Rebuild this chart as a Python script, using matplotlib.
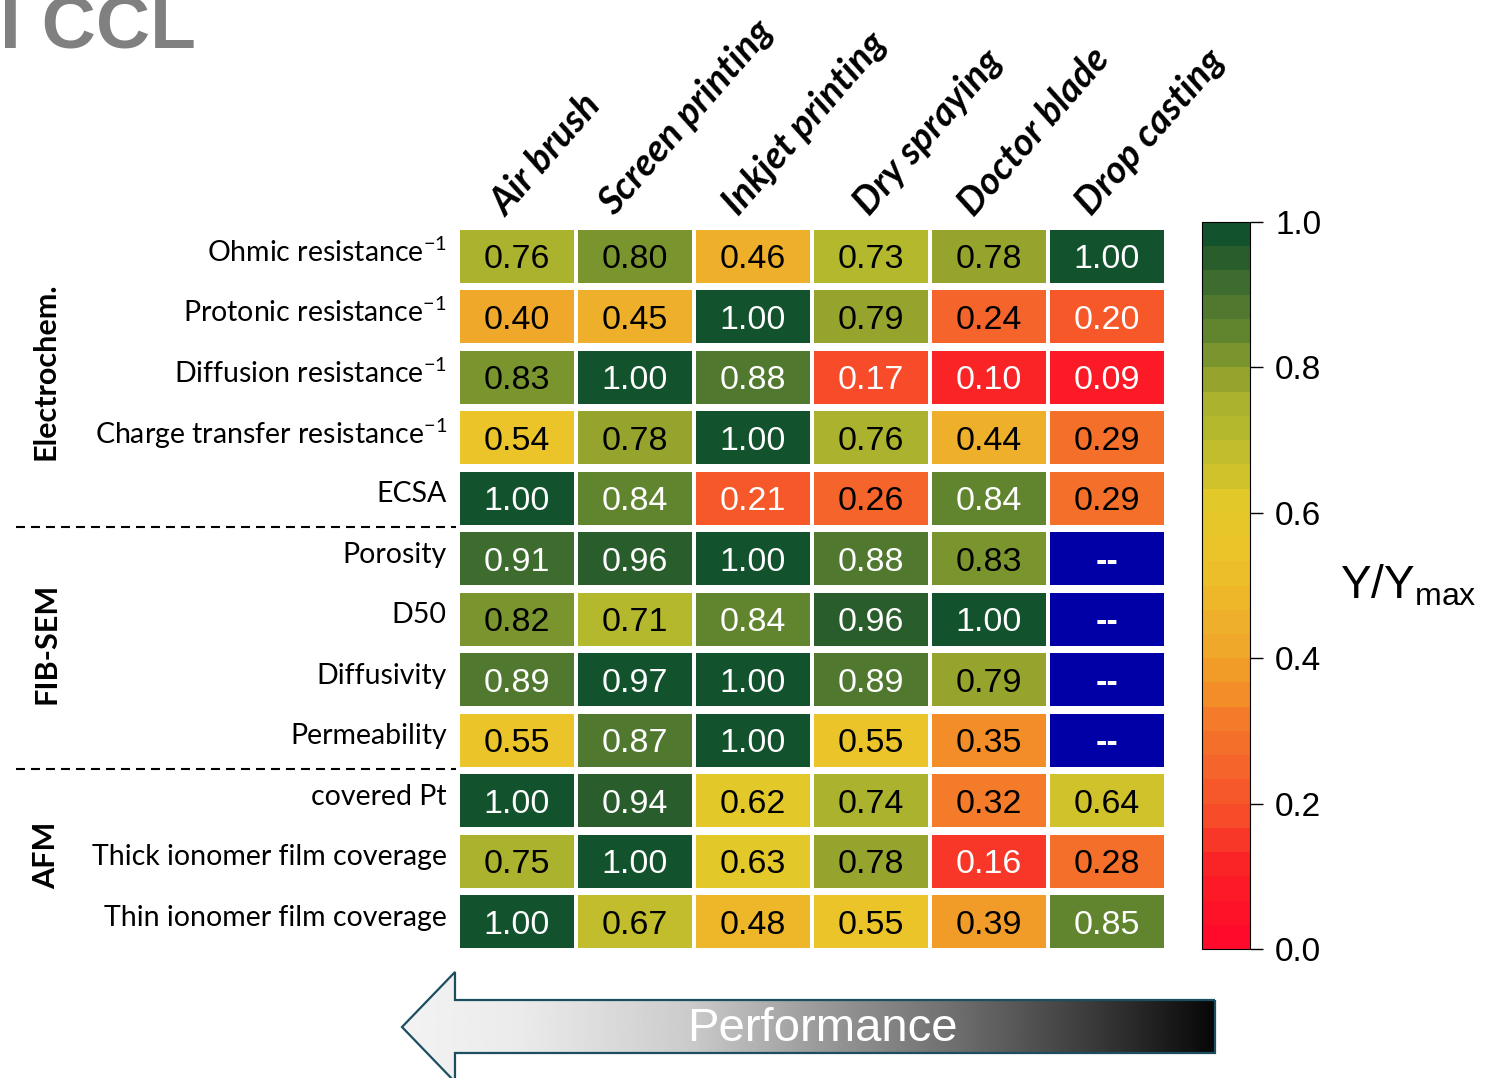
import numpy as np
import matplotlib
matplotlib.use("Agg")
import matplotlib.pyplot as plt
from matplotlib.colors import LinearSegmentedColormap, Normalize
from matplotlib.patches import Rectangle, Polygon
from matplotlib.transforms import blended_transform_factory
import matplotlib.cm as cm

# ---------------------------------------------------------------- data
methods = ["Air brush", "Screen printing", "Inkjet printing",
           "Dry spraying", "Doctor blade", "Drop casting"]

row_labels = [
    "Ohmic resistance$^{\\mathregular{-1}}$",
    "Protonic resistance$^{\\mathregular{-1}}$",
    "Diffusion resistance$^{\\mathregular{-1}}$",
    "Charge transfer resistance$^{\\mathregular{-1}}$",
    "ECSA",
    "Porosity", "D50", "Diffusivity", "Permeability",
    "covered Pt", "Thick ionomer film coverage", "Thin ionomer film coverage",
]

# normalised values Y/Ymax, one list per property (columns follow `methods`)
electrochem = [
    [0.76, 0.80, 0.46, 0.73, 0.78, 1.00],
    [0.40, 0.45, 1.00, 0.79, 0.24, 0.20],
    [0.83, 1.00, 0.88, 0.17, 0.10, 0.09],
    [0.54, 0.78, 1.00, 0.76, 0.44, 0.29],
    [1.00, 0.84, 0.21, 0.26, 0.84, 0.29],
]
fib_sem = [
    [0.91, 0.96, 1.00, 0.88, 0.83, np.nan],
    [0.82, 0.71, 0.84, 0.96, 1.00, np.nan],
    [0.89, 0.97, 1.00, 0.89, 0.79, np.nan],
    [0.55, 0.87, 1.00, 0.55, 0.35, np.nan],
]
afm = [
    [1.00, 0.94, 0.62, 0.74, 0.32, 0.64],
    [0.75, 1.00, 0.63, 0.78, 0.16, 0.28],
    [1.00, 0.67, 0.48, 0.55, 0.39, 0.85],
]
groups = [("Electrochem.", electrochem), ("FIB-SEM", fib_sem), ("AFM", afm)]

cbar_ticks = [0.0, 0.2, 0.4, 0.6, 0.8, 1.0]

values = np.array(electrochem + fib_sem + afm, dtype=float)

# ---------------------------------------------------------------- style
W, H = 1488, 1078
NUM_FONT = "Liberation Sans"
LBL_FONT = "Lato"

stops = [
    (0.00, "#FF0A2A"), (0.10, "#FA2125"), (0.17, "#F74A2A"), (0.24, "#F5642A"),
    (0.30, "#F4762A"), (0.35, "#F39028"), (0.40, "#EFA52A"), (0.47, "#EEB52A"),
    (0.55, "#EBC42A"), (0.62, "#E3C82A"), (0.67, "#C8C02C"), (0.72, "#B5B92C"),
    (0.76, "#ABB22E"), (0.79, "#98A52E"), (0.82, "#80982E"), (0.85, "#678A2E"),
    (0.89, "#537A2E"), (0.93, "#3F6B2E"), (0.96, "#2D5F2C"), (1.00, "#12522C"),
]
cmap = LinearSegmentedColormap.from_list("ryg", stops, N=30)
norm = Normalize(0, 1)
missing_color = "#0000A6"

# horizontal nudge of each rotated method label (in column units)
label_nudge = [0.08, 0.0, 0.05, 0.16, 0.04, 0.04]

plt.rcParams["mathtext.default"] = "regular"


def fx(px):
    return px / W


def fy(py):
    return 1 - py / H


fig = plt.figure(figsize=(W / 100, H / 100), dpi=100)

# ---------------------------------------------------------------- heatmap
ax = fig.add_axes([fx(458), fy(952), fx(1166) - fx(458), fy(226) - fy(952)])
ax.set_xlim(-0.5, len(methods) - 0.5)
ax.set_ylim(len(row_labels) - 0.5, -0.5)
ax.axis("off")

for i, row in enumerate(values):
    for j, v in enumerate(row):
        if np.isnan(v):
            face, txt, tc, wt = missing_color, "--", "white", "bold"
        else:
            face = cmap(norm(v))
            txt = f"{v:.2f}"
            tc = "white" if (v >= 0.84 or v <= 0.21) else "black"
            wt = "normal"
        ax.add_patch(Rectangle((j - 0.48, i - 0.44), 0.96, 0.88,
                               facecolor=face, edgecolor="none"))
        ax.text(j, i, txt, ha="center", va="center_baseline", color=tc,
                fontsize=24.5, family=NUM_FONT, weight=wt)

# property labels
for i, lbl in enumerate(row_labels):
    ax.text(-0.595, i - 0.07, lbl, ha="right", va="center",
            fontsize=20.5, family=LBL_FONT)

# method labels
for j, m in enumerate(methods):
    ax.text(j - 0.17 + label_nudge[j], -0.64, m, rotation=49,
            rotation_mode="anchor", ha="left", va="baseline", fontsize=27.5,
            family=LBL_FONT, weight="bold", style="italic")

# group labels and separators
trans = blended_transform_factory(fig.transFigure, ax.transData)
start = 0
for k, (name, rows) in enumerate(groups):
    n = len(rows)
    ax.text(fx(46), start + (n - 1) / 2 - 0.1, name, rotation=90,
            ha="center", va="center", fontsize=22, family=LBL_FONT,
            weight="bold", transform=trans)
    start += n
    if k < len(groups) - 1:
        ax.plot([fx(16), fx(456)], [start - 0.53, start - 0.53], transform=trans,
                color="black", lw=1.5, ls=(0, (4.3, 2.9)), clip_on=False)

# ---------------------------------------------------------------- colorbar
cax = fig.add_axes([fx(1202), fy(949), fx(1250) - fx(1202), fy(222) - fy(949)])
sm = cm.ScalarMappable(norm=norm, cmap=cmap)
cb = fig.colorbar(sm, cax=cax)
cb.set_ticks(cbar_ticks, labels=[f"{t:.1f}" for t in cbar_ticks])
cb.outline.set_linewidth(0.8)
cax.tick_params(length=9, width=1, pad=9, labelsize=24)
for t in cax.get_yticklabels():
    t.set_family(NUM_FONT)
cax.text(2.87, 0.5, "Y/Y$_{max}$", transform=cax.transAxes, ha="left",
         va="center", fontsize=33, family=NUM_FONT)

# ---------------------------------------------------------------- decoration
deco = fig.add_axes([0, 0, 1, 1], zorder=-1)
deco.axis("off")

deco.text(0, 48, "I CCL", ha="left", va="baseline", fontsize=54,
          family=NUM_FONT, weight="bold", color="#808080")

arrow_pts = [(1215, 1000), (455, 1000), (455, 972), (402, 1027),
             (455, 1082), (455, 1053), (1215, 1053)]
arrow = Polygon(arrow_pts, closed=True, facecolor="none",
                edgecolor="#1C4E62", lw=1.6, zorder=3)
gx = np.linspace(402, 1215, 400)
shade = np.interp(gx, [402, 520, 686, 822, 958, 1100, 1215],
                  [0.95, 0.92, 0.80, 0.60, 0.43, 0.22, 0.03])
im = deco.imshow(shade[np.newaxis, :], extent=[402, 1215, 1082, 972],
                 cmap="gray", vmin=0, vmax=1, aspect="auto", zorder=2)
deco.add_patch(arrow)
im.set_clip_path(arrow)
deco.text(822, 1029, "Performance", ha="center", va="center", fontsize=34,
          family=NUM_FONT, color="white", zorder=4)
deco.set_xlim(0, W)
deco.set_ylim(H, 0)

fig.savefig("out.png", dpi=100)
